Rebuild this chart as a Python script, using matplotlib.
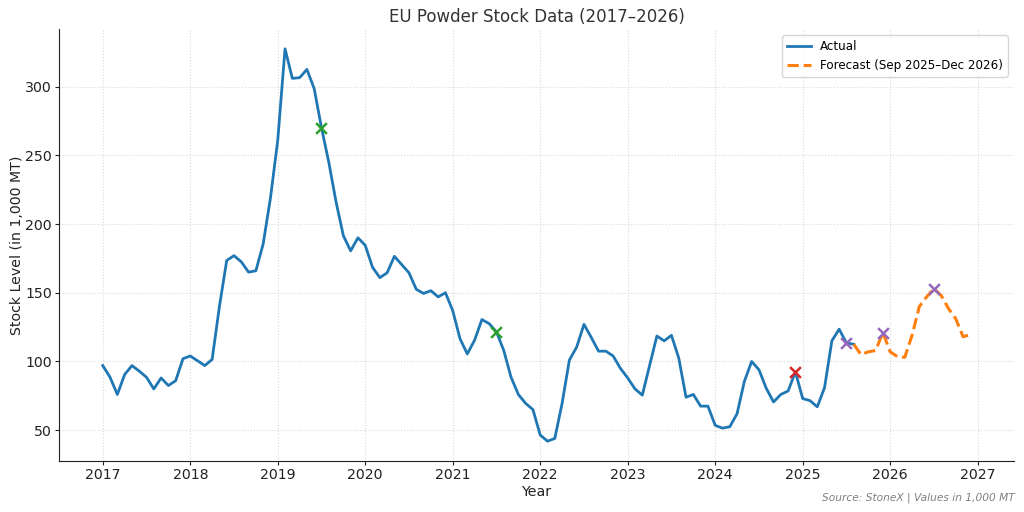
import matplotlib
matplotlib.use("Agg")
import matplotlib.pyplot as plt
import numpy as np

# ---- data ----
start_year = 2017
actual = [
    97, 88.5, 76, 90.5, 97, 93, 88.5, 80, 88, 82.5, 86, 102,            # 2017
    104, 100.5, 97, 101.5, 140, 173.5, 177, 172.5, 165, 166, 185.5, 219,  # 2018
    261, 327.5, 306, 306.5, 312.5, 298.5, 270, 245, 216, 191.5, 180.5, 190,  # 2019
    184.5, 168.5, 161, 164.5, 176.5, 170.5, 164.5, 152.5, 149.5, 151.5, 147, 150,  # 2020
    137, 116.5, 105.5, 115.5, 130.5, 127.5, 121.5, 108, 88.5, 76, 69.5, 65,  # 2021
    46.5, 42, 44, 69.5, 101, 110.5, 127, 117.5, 107.5, 107.5, 104, 95,  # 2022
    88, 80, 75.5, 97, 118.5, 115, 119, 102.5, 74, 76, 67.5, 67.5,       # 2023
    53.5, 51.5, 52.5, 62, 85.5, 100, 94, 80.5, 70.5, 76, 78.5, 92.5,     # 2024
    73, 71.5, 67, 81, 115, 123.5, 113.5, 112.5,                          # 2025 Jan-Aug
]
forecast = [105, 107, 108, 121, 107, 103.5, 103, 119, 140, 147, 153, 148,
            138.5, 131, 118, 119.5]  # Sep 2025 - Dec 2026

# highlighted months (index from Jan 2017) and colours
green_idx = [30, 54]          # Jul 2019, Jul 2021
red_idx = [95]                # Dec 2024
purple_idx = [102, 107, 114]  # Jul 2025, Dec 2025, Jul 2026

year_ticks = list(range(2017, 2028))

# ---- build series ----
all_vals = actual + forecast
x_all = start_year + np.arange(len(all_vals)) / 12.0
n_act = len(actual)
x_act = x_all[:n_act]
x_fc = x_all[n_act - 1:]
y_fc = [actual[-1]] + forecast

fig, ax = plt.subplots(figsize=(10.24, 5.12), dpi=100)
ax.plot(x_act, actual, color="#1f77b4", lw=2, label="Actual")
ax.plot(x_fc, y_fc, color="#ff7f0e", lw=2.2, ls="--", label="Forecast (Sep 2025\u2013Dec 2026)")

for idx_list, col in [(green_idx, "#2ca02c"), (red_idx, "#d62728"), (purple_idx, "#9467bd")]:
    ax.scatter([x_all[i] for i in idx_list], [all_vals[i] for i in idx_list],
               marker="x", color=col, s=60, linewidths=1.8, zorder=5)

ax.set_xticks(year_ticks)
ax.set_xticklabels([str(y) for y in year_ticks])
ax.set_title("EU Powder Stock Data (2017\u20132026)", fontsize=12, color="#333333", pad=5)
ax.set_xlabel("Year", fontsize=10.2, color="#222222", labelpad=2)
ax.set_ylabel("Stock Level (in 1,000 MT)", fontsize=10.2, color="#222222", labelpad=1)
ax.tick_params(labelsize=10.2, colors="#222222", length=3, pad=2.5)
ax.grid(True, ls=":", color="#d9d9d9", lw=0.8)
ax.spines["top"].set_visible(False)
ax.spines["right"].set_visible(False)
for s in ["left", "bottom"]:
    ax.spines[s].set_color("#222222")
ax.legend(loc="upper right", fontsize=8.6)

fig.subplots_adjust(left=0.058, right=0.99, top=0.943, bottom=0.1)
fig.text(0.991, 0.018, "Source: StoneX | Values in 1,000 MT", ha="right", va="bottom",
         fontsize=7.7, style="italic", color="gray")
fig.savefig("out.png", dpi=100)
